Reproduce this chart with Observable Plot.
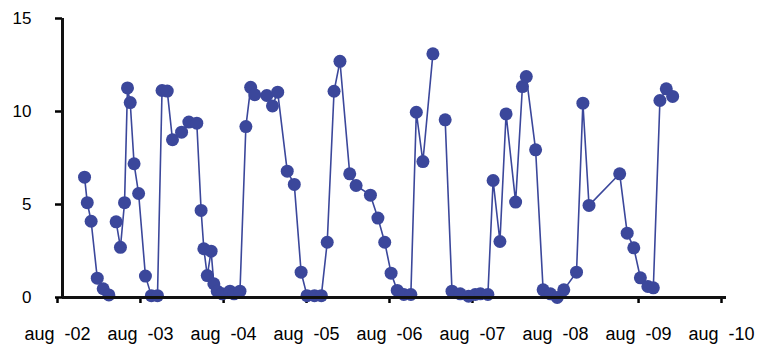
<!DOCTYPE html>
<html><head><meta charset="utf-8">
<script src="https://cdn.jsdelivr.net/npm/d3@7"></script>
<script src="https://cdn.jsdelivr.net/npm/@observablehq/plot@0.6"></script>
<style>
html,body{margin:0;padding:0;background:#fff;}
#chart svg{display:block;}
</style>
</head><body><div id="chart"></div>
<script>
// Observation dates (null value = gap in the line)
const dates = [
"2002-11-06","2002-11-18","2002-12-05","2003-01-01","2003-01-27","2003-02-21",
"2003-03-08",
"2003-03-25","2003-04-13","2003-05-01","2003-05-14","2003-05-26","2003-06-12","2003-07-02",
"2003-08-01","2003-08-27","2003-09-23","2003-10-13","2003-11-05","2003-11-28","2004-01-07",
"2004-02-08","2004-03-14","2004-04-02","2004-04-14","2004-04-29","2004-05-16","2004-05-28",
"2004-06-12","2004-07-04","2004-08-07","2004-08-25","2004-09-20","2004-10-16","2004-11-06",
"2004-11-24","2005-01-16","2005-02-10","2005-03-05","2005-04-16","2005-05-17","2005-06-16",
"2005-07-12","2005-08-14","2005-09-13","2005-10-09","2005-11-08","2005-12-04","2006-01-16",
"2006-02-13","2006-04-17","2006-05-20","2006-06-19","2006-07-17","2006-08-13","2006-09-11",
"2006-10-12","2006-11-05","2006-12-04","2007-01-17",
"2007-02-14",
"2007-03-12","2007-04-11","2007-05-17","2007-06-23","2007-07-22","2007-08-14","2007-09-16",
"2007-10-09","2007-11-08","2007-12-05","2008-01-16","2008-02-15","2008-03-03","2008-04-13",
"2008-05-16","2008-06-17","2008-07-17","2008-08-15","2008-10-10","2008-11-07","2008-12-04",
"2009-04-18","2009-05-21","2009-06-19","2009-07-18","2009-08-20","2009-09-13","2009-10-12",
"2009-11-09","2009-12-07"
];
const values = [
6.47,5.1,4.1,1.04,0.47,0.14,
null,
4.07,2.7,5.1,11.27,10.48,7.19,5.59,
1.15,0.1,0.1,11.13,11.1,8.48,8.89,
9.43,9.37,4.68,2.62,1.18,2.49,0.74,
0.34,0.2,0.34,0.2,0.34,9.19,11.3,
10.9,10.86,10.3,11.04,6.79,6.08,1.36,
0.1,0.1,0.1,2.97,11.09,12.7,6.65,
6.02,5.5,4.27,2.97,1.31,0.38,0.16,
0.16,9.96,7.31,13.1,
null,
9.55,0.34,0.2,0.07,0.16,0.2,0.16,
6.29,3.01,9.87,5.13,11.34,11.88,7.94,
0.41,0.2,0.0,0.41,1.36,10.45,4.95,
6.65,3.46,2.67,1.06,0.59,0.52,10.59,
11.22,10.81
];
const tickYears = [2002,2003,2004,2005,2006,2007,2008,2009,2010];
const yTicks = [0,5,10,15];

const parse = d3.utcParse("%Y-%m-%d");
const data = dates.map((d,i) => ({date: parse(d), value: values[i]}));
const xTicks = tickYears.map(y => new Date(Date.UTC(y,7,1)));
const color = "#3b479b";
const font = "'Liberation Sans', Arial, sans-serif";

const chart = Plot.plot({
  width: 760,
  height: 344,
  marginLeft: 62,
  marginRight: 34,
  marginTop: 18,
  marginBottom: 47,
  style: {fontFamily: font, fontSize: "17px", color: "#000", background: "#fff"},
  x: {type: "utc", domain: [xTicks[0], xTicks[xTicks.length-1]]},
  y: {domain: [0, 15]},
  marks: [
    Plot.axisY({ticks: yTicks, tickSize: 7, tickPadding: 24, strokeWidth: 2.5, label: null, fontSize: 17}),
    Plot.axisX({ticks: xTicks, tickSize: 6, tickPadding: 24, strokeWidth: 2.5, label: null, fontSize: 18,
      tickFormat: d => "aug\u00a0\u00a0-" + String(d.getUTCFullYear()).slice(2), dx: -5}),
    Plot.line(data, {x: "date", y: "value", stroke: color, strokeWidth: 1.6}),
    Plot.dot(data.filter(d => d.value != null), {x: "date", y: "value", r: 6.5, fill: color, stroke: "none"}),
    Plot.ruleX([xTicks[0]], {stroke: "#111", strokeWidth: 3}),
    Plot.ruleY([0], {stroke: "#111", strokeWidth: 3})
  ]
});
document.getElementById("chart").appendChild(chart);
</script>
</body></html>
